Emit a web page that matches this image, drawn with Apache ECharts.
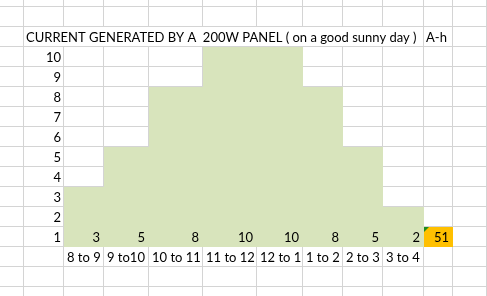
<!DOCTYPE html>
<html>
<head>
<meta charset="utf-8">
<script src="https://cdn.jsdelivr.net/npm/echarts@6/dist/echarts.min.js"></script>
<style>
  html, body { margin: 0; padding: 0; background: #fff; }
  #chart { width: 487px; height: 296px; }
</style>
</head>
<body>
<div id="chart"></div>
<script>
// data
const categories = ['8 to 9', '9 to10', '10 to 11', '11 to 12', '12 to 1', '1 to 2', '2 to 3', '3 to 4'];
const currentAh = [3, 5, 8, 10, 10, 8, 5, 2];
const totalAh = 51;
const rowTicks = [1, 2, 3, 4, 5, 6, 7, 8, 9, 10];
const titleText = 'CURRENT GENERATED BY A  200W PANEL ( on a good sunny day )';
const unitText = 'A-h';

// sheet layout: column edges in px, rows are one unit of the y axis
const colEdges = [0, 23, 63, 103, 148, 202, 256, 302, 342, 382, 423, 452, 486];
const GRID = '#d4d4d4';
const GREEN = '#d8e4bc';
const ORANGE = '#ffc000';
const FONT = '13px Lato';

const chart = echarts.init(document.getElementById('chart'), null, { renderer: 'canvas' });

function px(v) { return Math.round(v) + 0.5; }

// cell text sits just above the bottom gridline
function cellText(text, x, rowBottom, align) {
  return {
    type: 'text',
    style: { text: text, x: x, y: rowBottom - 2, align: align, verticalAlign: 'bottom', font: FONT, fill: '#000' }
  };
}

function renderSheet(params, api) {
  const children = [];
  for (let r = -2; r <= 12; r++) {
    const y = px(api.coord([0, r])[1]);
    children.push({ type: 'line', shape: { x1: 0, y1: y, x2: 487, y2: y }, style: { stroke: GRID, lineWidth: 1 } });
  }
  const tTop = Math.round(api.coord([0, 11])[1]);
  const tBot = Math.round(api.coord([0, 10])[1]);
  colEdges.forEach(function (e, k) {
    if (k === 0) return;
    const x = px(api.coord([e, 0])[0]);
    if (k >= 2 && k <= 9) {
      // title text spills over these cells
      children.push({ type: 'line', shape: { x1: x, y1: 0, x2: x, y2: tTop }, style: { stroke: GRID, lineWidth: 1 } });
      children.push({ type: 'line', shape: { x1: x, y1: tBot, x2: x, y2: 296 }, style: { stroke: GRID, lineWidth: 1 } });
    } else {
      children.push({ type: 'line', shape: { x1: x, y1: 0, x2: x, y2: 296 }, style: { stroke: GRID, lineWidth: 1 } });
    }
  });
  // title row
  children.push(cellText(titleText, api.coord([colEdges[1] + 3, 0])[0], tBot, 'left'));
  children.push(cellText(unitText, api.coord([colEdges[10] + 3, 0])[0], tBot, 'left'));
  return { type: 'group', children: children };
}

function renderRowTick(params, api) {
  const v = api.value(0);
  const bottom = Math.round(api.coord([0, v - 1])[1]);
  return cellText(String(v), api.coord([colEdges[2] - 2, 0])[0], bottom, 'right');
}

function renderBar(params, api) {
  const i = api.value(0);
  const v = api.value(1);
  const x0 = Math.round(api.coord([colEdges[i + 2], 0])[0]);
  const x1 = Math.round(api.coord([colEdges[i + 3], 0])[0]);
  const yTop = Math.round(api.coord([0, v])[1]);
  const yBase = Math.round(api.coord([0, 0])[1]);
  const yCat = Math.round(api.coord([0, -1])[1]);
  return {
    type: 'group',
    children: [
      { type: 'rect', shape: { x: x0 + 1, y: yTop + 1, width: x1 - x0, height: yBase - yTop }, style: { fill: GREEN } },
      cellText(String(v), x1 - 3, yBase, 'right'),
      cellText(categories[i], x0 + 4, yCat, 'left')
    ]
  };
}

function renderTotal(params, api) {
  const v = api.value(0);
  const x0 = Math.round(api.coord([colEdges[10], 0])[0]);
  const x1 = Math.round(api.coord([colEdges[11], 0])[0]);
  const yTop = Math.round(api.coord([0, 1])[1]);
  const yBase = Math.round(api.coord([0, 0])[1]);
  return {
    type: 'group',
    children: [
      { type: 'rect', shape: { x: x0 + 1, y: yTop + 1, width: x1 - x0, height: yBase - yTop }, style: { fill: ORANGE } },
      { type: 'polygon', shape: { points: [[x0 + 1, yTop + 1], [x0 + 6, yTop + 1], [x0 + 1, yTop + 6]] }, style: { fill: '#1e8c1e' } },
      cellText(String(v), x1 - 3, yBase, 'right')
    ]
  };
}

const option = {
  animation: false,
  grid: { left: 0, right: 0, top: 0, bottom: 0, containLabel: false },
  xAxis: { type: 'value', min: 0, max: 487, show: false },
  yAxis: { type: 'value', min: -2.5, max: 12.3, show: false },
  series: [
    { type: 'custom', name: 'sheet', z: 1, silent: true, data: [[0]], renderItem: renderSheet },
    { type: 'custom', name: 'Current (A-h)', z: 2, data: currentAh.map(function (v, i) { return [i, v]; }), renderItem: renderBar },
    { type: 'custom', name: 'rows', z: 2, data: rowTicks.map(function (t) { return [t]; }), renderItem: renderRowTick },
    { type: 'custom', name: 'Total', z: 3, data: [[totalAh]], renderItem: renderTotal }
  ]
};

chart.setOption(option);
</script>
</body>
</html>
